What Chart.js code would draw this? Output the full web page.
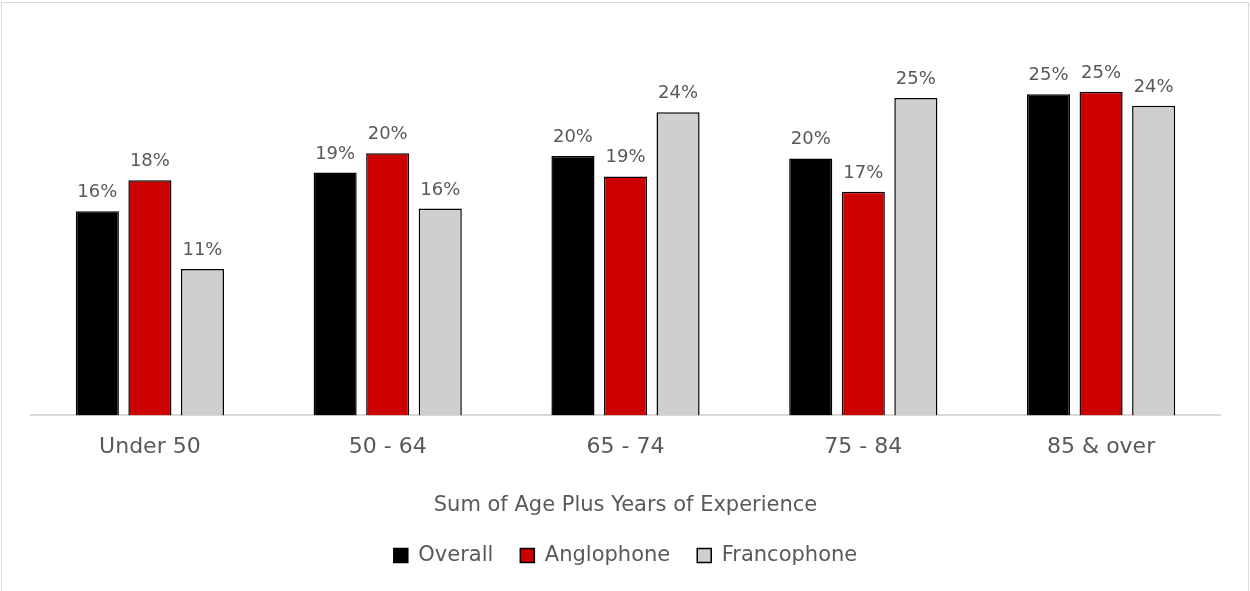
<!DOCTYPE html>
<html>

<head>
    <meta charset="utf-8" />
    <title>Sum of Age Plus Years of Experience</title>

    <script src="https://cdn.jsdelivr.net/npm/chart.js"></script>

    <style>
        body { margin: 0; background: #ffffff; }
        .frame {
            position: absolute; left: 1px; top: 2px;
            width: 1248px; height: 640px;
            border: 1px solid #d9d9d9; box-sizing: border-box;
        }
        .wrap { position: absolute; left: 0; top: 0; width: 1250px; height: 591px; }
    </style>
</head>

<body>
    <div class="frame"></div>
    <div class="wrap"><canvas id="myChart"></canvas></div>

    <script type="text/javascript">

        // age + experience bands
        const categories = ["Under 50", "50 - 64", "65 - 74", "75 - 84", "85 & over"];

        // share of respondents in each band (%)
        const overall = [15.9, 18.9, 20.2, 20.0, 25.0];
        const anglophone = [18.3, 20.4, 18.6, 17.4, 25.2];
        const francophone = [11.4, 16.1, 23.6, 24.7, 24.1];

        const textColor = "#595959";
        const fontFamily = "'DejaVu Sans', sans-serif";

        // writes the rounded percentage above every bar
        const valueLabels = {
            id: "valueLabels",
            afterDatasetsDraw(chart) {
                const ctx = chart.ctx;
                ctx.save();
                ctx.font = "18px " + fontFamily;
                ctx.fillStyle = textColor;
                ctx.textAlign = "center";
                ctx.textBaseline = "alphabetic";
                chart.data.datasets.forEach((ds, i) => {
                    chart.getDatasetMeta(i).data.forEach((bar, j) => {
                        ctx.fillText(Math.round(ds.data[j]) + "%", bar.x, bar.y - 14);
                    });
                });
                ctx.restore();
            }
        };

        const data = {
            labels: categories,
            datasets: [
                { label: "Overall", data: overall, backgroundColor: "#000000" },
                { label: "Anglophone", data: anglophone, backgroundColor: "#cc0000" },
                { label: "Francophone", data: francophone, backgroundColor: "#d0cece" }
            ]
        };
        data.datasets.forEach(ds => {
            ds.borderColor = "#000000";
            ds.borderWidth = 1.5;
            ds.categoryPercentage = 0.663;
            ds.barPercentage = 0.82;
        });

        const ctx = document.getElementById('myChart');
        new Chart(ctx, {
            type: 'bar',
            data: data,
            plugins: [valueLabels],
            options: {
                responsive: true,
                maintainAspectRatio: false,
                animation: false,
                layout: { padding: { left: 31, right: 30, top: 30, bottom: 15 } },
                scales: {
                    y: {
                        display: false,
                        min: 0,
                        max: 30
                    },
                    x: {
                        grid: { display: false },
                        border: { display: true, color: "#d9d9d9", width: 2 },
                        ticks: {
                            color: textColor,
                            padding: 11,
                            font: { family: fontFamily, size: 22 }
                        },
                        title: {
                            display: true,
                            text: "Sum of Age Plus Years of Experience",
                            color: textColor,
                            padding: { top: 21, bottom: 0 },
                            font: { family: fontFamily, size: 21 }
                        }
                    }
                },
                plugins: {
                    tooltip: { enabled: false },
                    legend: {
                        position: "bottom",
                        labels: {
                            color: textColor,
                            boxWidth: 14,
                            boxHeight: 14,
                            padding: 27,
                            font: { family: fontFamily, size: 21 }
                        }
                    }
                }
            }
        });

    </script>

</body>

</html>
